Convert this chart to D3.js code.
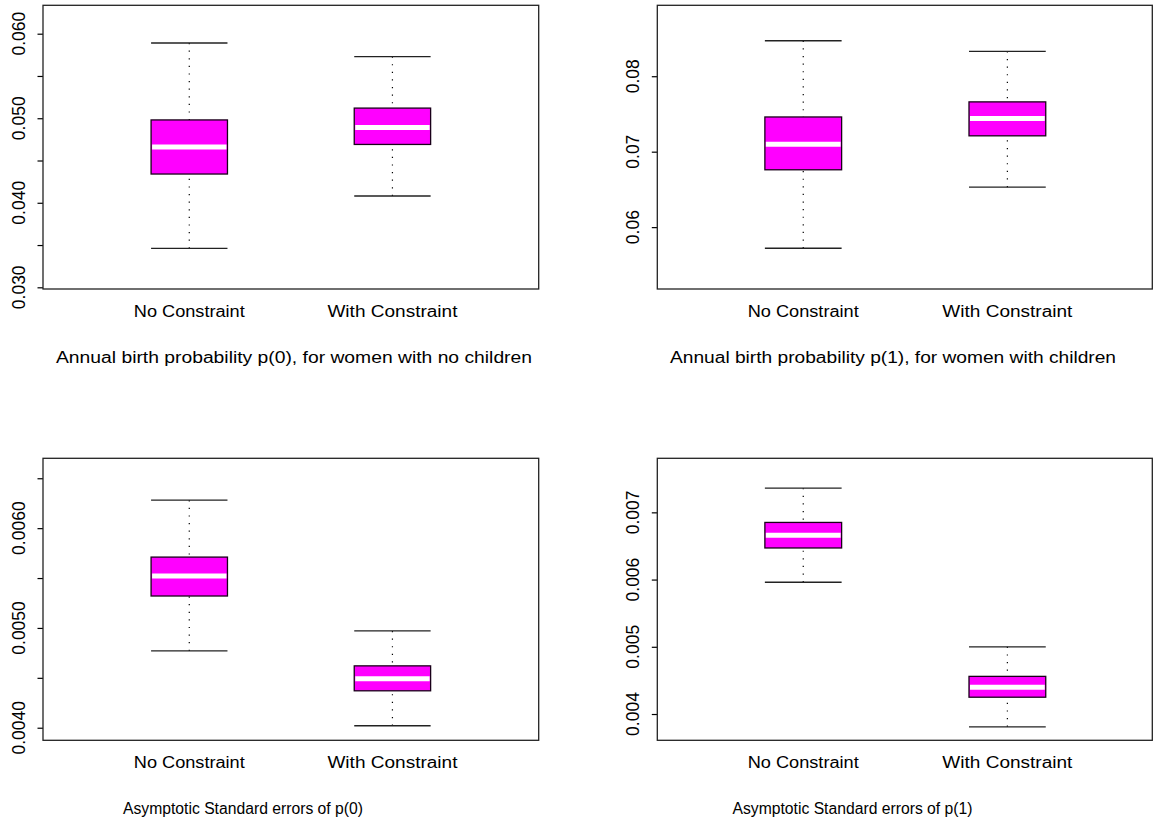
<!DOCTYPE html>
<html>
<head>
<meta charset="utf-8">
<script src="https://cdn.jsdelivr.net/npm/d3@7"></script>
<style>
  body { margin: 0; background: #fff; }
  text { font-family: "Liberation Sans", Arial, sans-serif; fill: #000; }
</style>
</head>
<body>
<div id="container"></div>
<script>
/* CONSTANTS AND GLOBALS */
const width = 1153,
  height = 827;

/* DATA */
// each box: [lower whisker, lower hinge, median, upper hinge, upper whisker]
const categories = ["No Constraint", "With Constraint"];

const p0NoConstraint = [0.0346, 0.0434, 0.0466, 0.0498, 0.0589];
const p0WithConstraint = [0.0408, 0.0469, 0.0489, 0.0512, 0.0573];
const p1NoConstraint = [0.0572, 0.0676, 0.0710, 0.0746, 0.0847];
const p1WithConstraint = [0.0653, 0.0721, 0.0744, 0.0766, 0.0833];
const se0NoConstraint = [0.00477, 0.00532, 0.00552, 0.00571, 0.00628];
const se0WithConstraint = [0.00402, 0.00437, 0.00449, 0.00462, 0.00497];
const se1NoConstraint = [0.00596, 0.00647, 0.00666, 0.00685, 0.00736];
const se1WithConstraint = [0.00381, 0.00425, 0.00440, 0.00456, 0.00500];

// y axis ranges and ticks (empty label = tick without text, as R drops them)
const p0Domain = [0.0298, 0.06336];
const p0Ticks = [0.030, 0.035, 0.040, 0.045, 0.050, 0.055, 0.060];
const p0TickLabels = ["0.030", "", "0.040", "", "0.050", "", "0.060"];

const p1Domain = [0.0518, 0.0894];
const p1Ticks = [0.06, 0.07, 0.08];
const p1TickLabels = ["0.06", "0.07", "0.08"];

const se0Domain = [0.003874, 0.0067];
const se0Ticks = [0.0040, 0.0045, 0.0050, 0.0055, 0.0060, 0.0065];
const se0TickLabels = ["0.0040", "", "0.0050", "", "0.0060", ""];

const se1Domain = [0.003609, 0.007804];
const se1Ticks = [0.004, 0.005, 0.006, 0.007];
const se1TickLabels = ["0.004", "0.005", "0.006", "0.007"];

const titles = [
  "Annual birth probability p(0), for women with no children",
  "Annual birth probability p(1), for women with children",
  "Asymptotic Standard errors of p(0)",
  "Asymptotic Standard errors of p(1)"
];

/* LAYOUT */
const leftCol = { x0: 43, x1: 538.7, xDomain: [0.28, 2.72] },
  rightCol = { x0: 657.3, x1: 1152.3, xDomain: [0.285, 2.71] },
  topRow = { y0: 5.3, y1: 289 },
  bottomRow = { y0: 458.3, y1: 740.3 };

const panels = [
  { col: leftCol, row: topRow, stats: [p0NoConstraint, p0WithConstraint], domain: p0Domain,
    ticks: p0Ticks, tickLabels: p0TickLabels, title: titles[0], titleX: 294, titleLen: 476 },
  { col: rightCol, row: topRow, stats: [p1NoConstraint, p1WithConstraint], domain: p1Domain,
    ticks: p1Ticks, tickLabels: p1TickLabels, title: titles[1], titleX: 893, titleLen: 446 },
  { col: leftCol, row: bottomRow, stats: [se0NoConstraint, se0WithConstraint], domain: se0Domain,
    ticks: se0Ticks, tickLabels: se0TickLabels, title: titles[2], titleX: 243, titleLen: 240 },
  { col: rightCol, row: bottomRow, stats: [se1NoConstraint, se1WithConstraint], domain: se1Domain,
    ticks: se1Ticks, tickLabels: se1TickLabels, title: titles[3], titleX: 852.5, titleLen: 240 }
];

const boxHalf = 0.188,
  labelLen = [111, 130],
  boxFill = "#ff00ff";

const svg = d3.select("#container")
  .append("svg")
  .attr("width", width)
  .attr("height", height);

panels.forEach(drawPanel);

function drawPanel(p) {
  const xScale = d3.scaleLinear()
    .domain(p.col.xDomain)
    .range([p.col.x0, p.col.x1]);

  const yScale = d3.scaleLinear()
    .domain(p.domain)
    .range([p.row.y1, p.row.y0]);

  const g = svg.append("g");

  // y axis: ticks from the scale, labels rotated like R's las=0
  const yAxis = d3.axisLeft(yScale)
    .tickValues(p.ticks)
    .tickSize(5.5)
    .tickFormat("");

  const yAxisGroup = g.append("g")
    .attr("transform", `translate(${p.col.x0}, 0)`)
    .call(yAxis);
  yAxisGroup.select(".domain").remove();
  yAxisGroup.selectAll(".tick line").attr("stroke", "#000").attr("stroke-width", 1.2);

  g.selectAll(".ytext")
    .data(p.ticks.map((t, i) => ({ t, label: p.tickLabels[i] })).filter(d => d.label))
    .join("text")
    .attr("class", "ytext")
    .attr("transform", d => `translate(${p.col.x0 - 18}, ${yScale(d.t)}) rotate(-90)`)
    .attr("text-anchor", "middle")
    .attr("font-size", 17.5)
    .text(d => d.label);

  // boxes
  const boxes = g.selectAll(".box")
    .data(p.stats.map((s, i) => ({ s, i })))
    .join("g")
    .attr("class", "box");

  const xl = d => xScale(d.i + 1 - boxHalf),
    xr = d => xScale(d.i + 1 + boxHalf),
    xc = d => xScale(d.i + 1);

  // dotted whiskers
  boxes.append("line")
    .attr("x1", xc).attr("x2", xc)
    .attr("y1", d => yScale(d.s[4])).attr("y2", d => yScale(d.s[3]))
    .attr("stroke", "#000").attr("stroke-width", 1.2)
    .attr("stroke-dasharray", "1.2 6.4");
  boxes.append("line")
    .attr("x1", xc).attr("x2", xc)
    .attr("y1", d => yScale(d.s[0])).attr("y2", d => yScale(d.s[1]))
    .attr("stroke", "#000").attr("stroke-width", 1.2)
    .attr("stroke-dasharray", "1.2 6.4");

  // staples
  [0, 4].forEach(k => {
    boxes.append("line")
      .attr("x1", xl).attr("x2", xr)
      .attr("y1", d => yScale(d.s[k])).attr("y2", d => yScale(d.s[k]))
      .attr("stroke", "#222").attr("stroke-width", 1.3);
  });

  boxes.append("rect")
    .attr("x", xl)
    .attr("width", d => xr(d) - xl(d))
    .attr("y", d => yScale(d.s[3]))
    .attr("height", d => yScale(d.s[1]) - yScale(d.s[3]))
    .attr("fill", boxFill)
    .attr("stroke", "#1a001a")
    .attr("stroke-width", 1.3);

  // white median bar
  boxes.append("line")
    .attr("x1", d => xl(d) + 1).attr("x2", d => xr(d) - 1)
    .attr("y1", d => yScale(d.s[2])).attr("y2", d => yScale(d.s[2]))
    .attr("stroke", "#fff").attr("stroke-width", 5);

  // frame
  g.append("rect")
    .attr("x", p.col.x0).attr("y", p.row.y0)
    .attr("width", p.col.x1 - p.col.x0)
    .attr("height", p.row.y1 - p.row.y0)
    .attr("fill", "none")
    .attr("stroke", "#222")
    .attr("stroke-width", 1.3);

  // category labels
  g.selectAll(".xtext")
    .data(categories)
    .join("text")
    .attr("class", "xtext")
    .attr("x", (d, i) => xScale(i + 1))
    .attr("y", p.row.y1 + 27.7)
    .attr("text-anchor", "middle")
    .attr("font-size", 16)
    .attr("textLength", (d, i) => labelLen[i])
    .attr("lengthAdjust", "spacingAndGlyphs")
    .text(d => d);

  // sub title
  g.append("text")
    .attr("x", p.titleX)
    .attr("y", p.row.y1 + 73.5)
    .attr("text-anchor", "middle")
    .attr("font-size", 16)
    .attr("textLength", p.titleLen)
    .attr("lengthAdjust", "spacingAndGlyphs")
    .text(p.title);
}
</script>
</body>
</html>
